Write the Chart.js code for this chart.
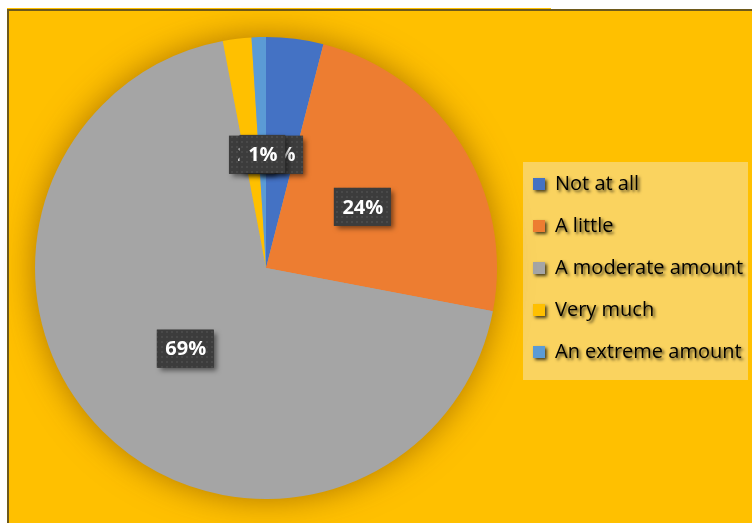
<!DOCTYPE html>
<html>
<head>
<meta charset="utf-8">
<title>Pie chart</title>
<script src="https://cdn.jsdelivr.net/npm/chart.js@4"></script>
<style>
  html, body { margin: 0; padding: 0; background: #ffffff; }
  #wrap { width: 752px; height: 523px; }
</style>
</head>
<body>
<div id="wrap"><canvas id="pie" width="752" height="523"></canvas></div>
<script>
// Answer categories and their share of responses (%)
const categories = ['Not at all', 'A little', 'A moderate amount', 'Very much', 'An extreme amount'];
const shares = [4, 24, 69, 2, 1];
const sliceColors = ['#4472C4', '#ED7D31', '#A5A5A5', '#FFC000', '#5B9BD5'];

// Dotted fill used behind the percentage labels
function makeDotPattern(ctx) {
  const c = document.createElement('canvas');
  c.width = 5; c.height = 5;
  const p = c.getContext('2d');
  p.fillStyle = '#3c3c3c';
  p.fillRect(0, 0, 5, 5);
  p.fillStyle = '#494949';
  p.fillRect(1, 1, 2, 2);
  return ctx.createPattern(c, 'repeat');
}

// Page frame, chart panel and legend panel
const framePlugin = {
  id: 'frame',
  beforeDraw(chart) {
    const ctx = chart.ctx;
    ctx.save();
    ctx.fillStyle = '#ffffff';
    ctx.fillRect(0, 0, chart.width, chart.height);
    ctx.fillStyle = '#FFC000';
    ctx.fillRect(7, 8, 544, 1);
    ctx.fillRect(8, 10, chart.width - 8, chart.height - 10);
    ctx.fillStyle = '#6e5a1c';
    ctx.fillRect(7, 9, chart.width - 7, 2);
    ctx.fillRect(7, 9, 2, chart.height - 9);
    ctx.fillStyle = '#FAD35F';
    ctx.fillRect(523, 162, 225, 218);
    ctx.restore();
  },
  beforeDatasetsDraw(chart) {
    // soft glow underneath the pie
    const arc = chart.getDatasetMeta(0).data[0];
    if (!arc) return;
    const {x, y, outerRadius} = arc.getProps(['x', 'y', 'outerRadius'], true);
    const ctx = chart.ctx;
    ctx.save();
    ctx.shadowColor = 'rgba(110, 60, 0, 0.6)';
    ctx.shadowBlur = 34;
    ctx.fillStyle = '#A5A5A5';
    ctx.beginPath();
    ctx.arc(x, y, outerRadius - 1, 0, Math.PI * 2);
    ctx.fill();
    ctx.restore();
  }
};

// Fixed legend column width and shadowed legend text
const legendTweaks = {
  id: 'legendTweaks',
  beforeLayout(chart) {
    const lg = chart.legend;
    if (!lg || lg._tweaked) return;
    lg._tweaked = true;
    const fit = lg.fit.bind(lg);
    lg.fit = function () { fit(); this.width = 241; };
    const draw = lg.draw.bind(lg);
    lg.draw = function () {
      const c = this.ctx;
      c.save();
      c.shadowColor = 'rgba(0, 0, 0, 0.7)';
      c.shadowBlur = 3;
      c.shadowOffsetX = 2;
      c.shadowOffsetY = 2;
      draw();
      c.restore();
    };
  }
};

// Percentage tags inside each slice
const valueTags = {
  id: 'valueTags',
  afterDatasetsDraw(chart) {
    const ctx = chart.ctx;
    const meta = chart.getDatasetMeta(0);
    const values = chart.data.datasets[0].data;
    const pattern = makeDotPattern(ctx);
    ctx.save();
    ctx.font = 'bold 20px "Open Sans", "Liberation Sans", sans-serif';
    meta.data.forEach((arc, i) => {
      const p = arc.getProps(['x', 'y', 'startAngle', 'endAngle', 'outerRadius'], true);
      const mid = (p.startAngle + p.endAngle) / 2;
      const r = p.outerRadius * 0.494;
      const cx = p.x + Math.cos(mid) * r;
      const cy = p.y + Math.sin(mid) * r;
      const text = values[i] + '%';
      const w = ctx.measureText(text).width + 16;
      const h = 38;
      ctx.save();
      ctx.shadowColor = 'rgba(0, 0, 0, 0.5)';
      ctx.shadowBlur = 5;
      ctx.shadowOffsetX = 3;
      ctx.shadowOffsetY = 3;
      ctx.fillStyle = '#3c3c3c';
      ctx.fillRect(cx - w / 2, cy - h / 2, w, h);
      ctx.restore();
      ctx.fillStyle = pattern;
      ctx.fillRect(cx - w / 2, cy - h / 2, w, h);
      ctx.fillStyle = '#ffffff';
      ctx.textAlign = 'center';
      ctx.textBaseline = 'middle';
      ctx.fillText(text, cx + 0.5, cy + 1);
    });
    ctx.restore();
  }
};

new Chart(document.getElementById('pie'), {
  type: 'pie',
  data: {
    labels: categories,
    datasets: [{
      data: shares,
      backgroundColor: sliceColors,
      borderWidth: 0
    }]
  },
  options: {
    responsive: false,
    devicePixelRatio: 1,
    animation: false,
    events: [],
    layout: { padding: { left: 21, top: 37, bottom: 24, right: 0 } },
    plugins: {
      tooltip: { enabled: false },
      legend: {
        position: 'right',
        align: 'center',
        labels: {
          color: '#000000',
          boxWidth: 12,
          boxHeight: 12,
          padding: 22,
          font: { family: '"Open Sans", "Liberation Sans", sans-serif', size: 20 }
        }
      }
    }
  },
  plugins: [framePlugin, legendTweaks, valueTags]
});
</script>
</body>
</html>
